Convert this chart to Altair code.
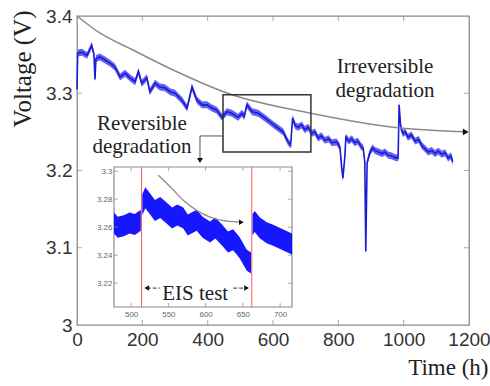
import altair as alt
import pandas as pd

# ---------------- data ----------------
time_h = [0, 2, 15, 31, 45, 52, 55, 58, 70, 86, 101, 116, 132, 147, 162, 178, 188, 198, 214, 223,
          239, 254, 269, 285, 300, 321, 337, 352, 367, 383, 398, 413, 428, 444, 459, 474, 493, 505,
          512, 520, 536, 555, 575, 596, 612, 631, 646, 654,
          660, 668, 677, 688, 697, 708, 718, 728, 738, 748, 759, 770, 780, 795, 805, 810, 814, 820,
          823, 832, 841, 850, 860, 868, 876, 881, 884, 888, 897, 905, 912, 923, 934, 943, 952, 962,
          973, 983, 986, 991, 998, 1005, 1013, 1024, 1035, 1046, 1056, 1066, 1075, 1086, 1096,
          1106, 1117, 1127, 1136, 1145, 1150]
voltage = [3.305, 3.352, 3.353, 3.349, 3.362, 3.350, 3.318, 3.345, 3.347, 3.343, 3.339, 3.334, 3.321,
           3.326, 3.320, 3.315, 3.328, 3.313, 3.320, 3.302, 3.313, 3.308, 3.307, 3.302, 3.300, 3.291,
           3.281, 3.308, 3.291, 3.285, 3.285, 3.281, 3.278, 3.269, 3.276, 3.274, 3.269, 3.274, 3.270,
           3.285, 3.276, 3.274, 3.268, 3.261, 3.256, 3.250, 3.237, 3.233,
           3.268, 3.258, 3.256, 3.259, 3.253, 3.256, 3.248, 3.250, 3.242, 3.245, 3.239, 3.241, 3.236,
           3.237, 3.230, 3.205, 3.190, 3.218, 3.243, 3.238, 3.241, 3.236, 3.238, 3.232, 3.229, 3.211,
           3.095, 3.210, 3.224, 3.229, 3.226, 3.224, 3.222, 3.224, 3.220, 3.219, 3.217, 3.216, 3.285,
           3.256, 3.248, 3.250, 3.243, 3.246, 3.238, 3.240, 3.232, 3.228, 3.224, 3.226, 3.222, 3.225,
           3.221, 3.223, 3.216, 3.219, 3.211]

inset_time = [477, 482, 490, 498, 505, 513,
              515, 519, 525, 532, 539, 548, 555, 562, 570, 576, 588, 596, 606, 613, 622, 630, 637,
              646, 655, 661,
              663, 666, 673, 682, 690, 700, 713, 716]
inset_voltage = [3.263, 3.260, 3.261, 3.263, 3.262, 3.265,
                 3.276, 3.281, 3.277, 3.272, 3.274, 3.270, 3.2665, 3.2687, 3.2665, 3.2616, 3.265,
                 3.260, 3.2566, 3.2594, 3.2544, 3.2494, 3.251, 3.2452, 3.2366, 3.2344,
                 3.262, 3.264, 3.2594, 3.256, 3.2544, 3.252, 3.2487, 3.248]
inset_segment = [1] * 6 + [2] * 20 + [3] * 8

trend_time = [0, 70, 171, 275, 468, 716, 989, 1190]
trend_voltage = [3.400, 3.378, 3.356, 3.334, 3.299, 3.274, 3.255, 3.250]

inset_trend_time = [536.5, 554.5, 570, 588, 606, 628, 648]
inset_trend_voltage = [3.2972, 3.2878, 3.2792, 3.2720, 3.2672, 3.2643, 3.2636]

eis_times = [514, 662]

zoom_box_time = [447, 716]
zoom_box_voltage = [3.224, 3.298]
connector_time = [447, 376.5, 376.5]
connector_voltage = [3.2447, 3.2447, 3.213]

note_text = ["Irreversible", "degradation", "Reversible", "degradation"]
note_time = [943, 943, 199, 199]
note_voltage = [3.334, 3.303, 3.260, 3.2304]

x_ticks = [0, 200, 400, 600, 800, 1000, 1200]
y_ticks = [3.0, 3.1, 3.2, 3.3, 3.4]
inset_x_ticks = [500, 550, 600, 650, 700]
inset_y_ticks = [3.22, 3.24, 3.26, 3.28, 3.30]

X_DOM = [0, 1200]
Y_DOM = [3.0, 3.4]
IX_DOM = [477, 716]
IY_DOM = [3.203, 3.303]

SANS = "Liberation Sans, Arial, sans-serif"
SERIF = "Liberation Serif, Times New Roman, DejaVu Serif, serif"

# ---------------- scales and axes ----------------
xs = alt.Scale(domain=X_DOM, nice=False, zero=False)
ys = alt.Scale(domain=Y_DOM, nice=False, zero=False)
ixs = alt.Scale(domain=IX_DOM, range=[37, 215], nice=False, zero=False)
iys = alt.Scale(domain=IY_DOM, range=[291, 151], nice=False, zero=False)

x_axis = alt.Axis(values=x_ticks, orient="bottom", title="Time (h)", format="d", domain=False,
                  ticks=False, tickSize=0, grid=False, labelFont=SANS, labelFontSize=19,
                  labelColor="#333", labelPadding=5, labelFlush=False, labelOverlap=False,
                  titleFont=SERIF, titleFontSize=23, titleFontWeight="normal", titleColor="#222",
                  titleX=411, titleY=49, titleAlign="right", titleBaseline="alphabetic")
y_axis = alt.Axis(values=y_ticks, orient="left", title="Voltage (V)", format="~g", domain=False,
                  ticks=False, tickSize=0, grid=False, labelFont=SANS, labelFontSize=19,
                  labelColor="#333", labelPadding=5, labelFlush=False, labelOverlap=False,
                  titleFont=SERIF, titleFontSize=25, titleFontWeight="normal", titleColor="#222",
                  titleAngle=270, titleX=-55, titleY=-6, titleAlign="right",
                  titleBaseline="middle")
ix_axis = alt.Axis(values=inset_x_ticks, orient="bottom", offset=-18, title=None, format="d",
                   domain=False, ticks=False, tickSize=0, grid=False, labelFont=SANS,
                   labelFontSize=8, labelColor="#666", labelPadding=3, labelFlush=False)
iy_axis = alt.Axis(values=inset_y_ticks, orient="left", offset=-37, title=None, format="~g",
                   domain=False, ticks=False, tickSize=0, grid=False, labelFont=SANS,
                   labelFontSize=8, labelColor="#666", labelPadding=2, labelFlush=False)


def MX(f="t"):
    return alt.X(f"{f}:Q", scale=xs, axis=x_axis)


def MY(f="v"):
    return alt.Y(f"{f}:Q", scale=ys, axis=y_axis)


def IX(f="t"):
    return alt.X(f"{f}:Q", scale=ixs, axis=ix_axis)


def IY(f="v"):
    return alt.Y(f"{f}:Q", scale=iys, axis=iy_axis)


# ---------------- tables ----------------
main_df = pd.DataFrame({"t": time_h, "v": voltage})
inset_df = pd.DataFrame({"t": inset_time, "v": inset_voltage, "seg": inset_segment})
trend_df = pd.DataFrame({"t": trend_time, "v": trend_voltage})
itrend_df = pd.DataFrame({"t": inset_trend_time, "v": inset_trend_voltage})
box_df = pd.DataFrame({"t": [zoom_box_time[0]], "t2": [zoom_box_time[1]],
                       "v": [zoom_box_voltage[0]], "v2": [zoom_box_voltage[1]]})
conn_df = pd.DataFrame({"t": connector_time, "v": connector_voltage, "o": [0, 1, 2]})
note_df = pd.DataFrame({"t": note_time, "v": note_voltage, "txt": note_text})

# ---------------- main layers ----------------
band = alt.Chart(main_df).transform_calculate(
    lo="datum.v - 0.0045", hi="datum.v + 0.0045"
).mark_area(color="#3c3cf0", opacity=0.8).encode(x=MX(), y=MY("lo"), y2=alt.Y2("hi:Q"))
trace = alt.Chart(main_df).mark_line(color="#1c1cd6", strokeWidth=1.6).encode(x=MX(), y=MY())

trend = alt.Chart(trend_df).mark_line(color="#8a8a8a", strokeWidth=1.5,
                                      interpolate="monotone").encode(x=MX(), y=MY())
trend_head = alt.Chart(trend_df.tail(1)).mark_point(shape="triangle-right", filled=True,
                                                    size=45, color="#111", opacity=1).encode(
    x=MX(), y=MY())

box = alt.Chart(box_df).mark_rect(fillOpacity=0, stroke="#333", strokeWidth=1.5).encode(
    x=MX(), x2=alt.X2("t2:Q"), y=MY(), y2=alt.Y2("v2:Q"))
conn = alt.Chart(conn_df).mark_line(color="#555", strokeWidth=1).encode(
    x=MX(), y=MY(), order="o:Q")
conn_head = alt.Chart(conn_df.tail(1)).mark_point(shape="triangle-down", filled=True, size=35,
                                                  color="#111", opacity=1).encode(x=MX(), y=MY())

notes = alt.Chart(note_df).mark_text(font=SERIF, fontSize=21, color="#222", align="center",
                                     baseline="middle").encode(x=MX(), y=MY(), text="txt:N")

inner_x = x_ticks[1:-1]
inner_y = y_ticks[1:-1]
tick_style = dict(color="#888", thickness=1, size=5)
tk_bottom = alt.Chart(pd.DataFrame({"t": inner_x, "v": [Y_DOM[0]] * len(inner_x)})).mark_tick(
    orient="vertical", yOffset=-2.5, **tick_style).encode(x=MX(), y=MY())
tk_top = alt.Chart(pd.DataFrame({"t": inner_x, "v": [Y_DOM[1]] * len(inner_x)})).mark_tick(
    orient="vertical", yOffset=2.5, **tick_style).encode(x=MX(), y=MY())
tk_left = alt.Chart(pd.DataFrame({"t": [X_DOM[0]] * len(inner_y), "v": inner_y})).mark_tick(
    orient="horizontal", xOffset=2.5, **tick_style).encode(x=MX(), y=MY())
tk_right = alt.Chart(pd.DataFrame({"t": [X_DOM[1]] * len(inner_y), "v": inner_y})).mark_tick(
    orient="horizontal", xOffset=-2.5, **tick_style).encode(x=MX(), y=MY())

main = alt.layer(band, trace, trend, trend_head, box, conn, conn_head, notes,
                 tk_bottom, tk_top, tk_left, tk_right)

# ---------------- inset layers ----------------
ibg = alt.Chart(pd.DataFrame({"t": [IX_DOM[0]], "t2": [IX_DOM[1]], "v": [IY_DOM[0]],
                              "v2": [IY_DOM[1]]})).mark_rect(
    fill="white", stroke="#8c8c8c", strokeWidth=1.2).encode(
    x=IX(), x2=alt.X2("t2:Q"), y=IY(), y2=alt.Y2("v2:Q"))
ired = alt.Chart(pd.DataFrame({"t": eis_times, "v": [IY_DOM[0]] * 2,
                               "v2": [IY_DOM[1]] * 2})).mark_rule(
    color="#ff5a5a", strokeWidth=1).encode(x=IX(), y=IY(), y2=alt.Y2("v2:Q"))
iband = alt.Chart(inset_df).transform_calculate(
    lo="datum.v - 0.0075", hi="datum.v + 0.0075"
).mark_area(color="#0a0aff", opacity=0.95).encode(
    x=IX(), y=IY("lo"), y2=alt.Y2("hi:Q"), detail="seg:N")
itrend = alt.Chart(itrend_df).mark_line(color="#8a8a8a", strokeWidth=1.3,
                                        interpolate="monotone").encode(x=IX(), y=IY())
itrend_head = alt.Chart(itrend_df.tail(1)).mark_point(shape="triangle-right", filled=True,
                                                      size=30, color="#111", opacity=1).encode(
    x=IX(), y=IY())

eis_text = alt.Chart(pd.DataFrame({"t": [586], "v": [3.2125], "txt": ["EIS test"]})).mark_text(
    font=SERIF, fontSize=21, color="#222", align="center", baseline="middle").encode(
    x=IX(), y=IY(), text="txt:N")
eis_arrow_df = pd.DataFrame({"t": [539, 521, 637, 655], "v": [3.2165] * 4,
                             "side": ["l", "l", "r", "r"]})
eis_lines = alt.Chart(eis_arrow_df).mark_line(color="#333", strokeWidth=1,
                                              strokeDash=[4, 2]).encode(
    x=IX(), y=IY(), detail="side:N")
eis_heads = alt.Chart(pd.DataFrame({"t": [521, 655], "v": [3.2165] * 2,
                                    "shp": ["triangle-left", "triangle-right"]})).mark_point(
    filled=True, size=30, color="#111", opacity=1).encode(
    x=IX(), y=IY(), shape=alt.Shape("shp:N", scale=None))

itick_style = dict(color="#888", thickness=1, size=4)
itk_bottom = alt.Chart(pd.DataFrame({"t": inset_x_ticks, "v": [IY_DOM[0]] * 5})).mark_tick(
    orient="vertical", yOffset=-2, **itick_style).encode(x=IX(), y=IY())
itk_top = alt.Chart(pd.DataFrame({"t": inset_x_ticks, "v": [IY_DOM[1]] * 5})).mark_tick(
    orient="vertical", yOffset=2, **itick_style).encode(x=IX(), y=IY())
itk_left = alt.Chart(pd.DataFrame({"t": [IX_DOM[0]] * 5, "v": inset_y_ticks})).mark_tick(
    orient="horizontal", xOffset=2, **itick_style).encode(x=IX(), y=IY())
itk_right = alt.Chart(pd.DataFrame({"t": [IX_DOM[1]] * 5, "v": inset_y_ticks})).mark_tick(
    orient="horizontal", xOffset=-2, **itick_style).encode(x=IX(), y=IY())

inset = alt.layer(ibg, ired, iband, itrend, itrend_head, eis_lines, eis_heads, eis_text,
                  itk_bottom, itk_top, itk_left, itk_right)

chart = alt.layer(main, inset).resolve_scale(x="independent", y="independent").resolve_axis(
    x="independent", y="independent"
).properties(
    width=392, height=309,
    padding={"left": 77, "top": 16, "right": 21, "bottom": 61},
    autosize=alt.AutoSizeParams(type="none"),
    background="white",
).configure_view(stroke="#8c8c8c", strokeWidth=1.3)

chart.save("out.html", embed_options={"renderer": "svg", "actions": False})
